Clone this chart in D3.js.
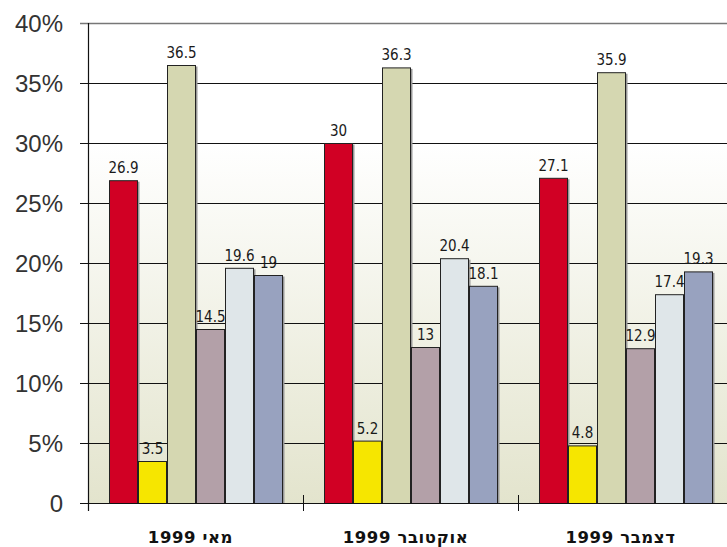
<!DOCTYPE html>
<html><head><meta charset="utf-8">
<script src="https://cdn.jsdelivr.net/npm/d3@7"></script>
<style>html,body{margin:0;padding:0;background:#fff}svg{display:block}</style>
</head><body>
<svg id="chart" width="727" height="547"></svg>
<script>
const categories = ["מאי 1999", "אוקטובר 1999", "דצמבר 1999"];
const seriesNames = ["s1", "s2", "s3", "s4", "s5", "s6"];
const seriesColors = ["#d10024", "#f6e600", "#d5d7b1", "#b3a0a8", "#dfe6e9", "#98a2bf"];
const s1 = [26.9, 30, 27.1];
const s2 = [3.5, 5.2, 4.8];
const s3 = [36.5, 36.3, 35.9];
const s4 = [14.5, 13, 12.9];
const s5 = [19.6, 20.4, 17.4];
const s6 = [19, 18.1, 19.3];
const seriesValues = [s1, s2, s3, s4, s5, s6];
const yTicks = [0, 5, 10, 15, 20, 25, 30, 35, 40];
const yTickLabels = ["0", "5%", "10%", "15%", "20%", "25%", "30%", "35%", "40%"];

(function () {
const svg = d3.select("#chart");
const mLeft = 88, mTop = 23, mBottom = 503, mRight = 733;

const y = d3.scaleLinear().domain([0, 40]).range([mBottom, mTop]);
const x0 = d3.scaleBand().domain(categories).range([mLeft, mRight]);
const x1 = d3.scaleBand().domain(seriesNames).range([21, x0.bandwidth() - 20]);

// background gradient
const defs = svg.append("defs");
const grad = defs.append("linearGradient").attr("id", "bg").attr("x1", 0).attr("y1", 0).attr("x2", 0).attr("y2", 1);
grad.append("stop").attr("offset", "0").attr("stop-color", "#ffffff");
grad.append("stop").attr("offset", "0.25").attr("stop-color", "#ffffff");
grad.append("stop").attr("offset", "1").attr("stop-color", "#e3e4cd");
svg.append("rect").attr("x", mLeft).attr("y", mTop).attr("width", mRight - mLeft).attr("height", mBottom - mTop).attr("fill", "url(#bg)");

// gridlines
svg.append("g").selectAll("line").data(yTicks).join("line")
  .attr("x1", mLeft - 8).attr("x2", 727)
  .attr("y1", d => y(d) + 0.5).attr("y2", d => y(d) + 0.5)
  .attr("stroke", d => d === 40 ? "#777" : "#111").attr("stroke-width", d => d === 40 ? 1.5 : 1);

// y tick labels
svg.append("g").selectAll("text").data(yTicks).join("text")
  .attr("x", 63).attr("y", d => y(d) + 8.5)
  .attr("text-anchor", "end")
  .attr("font-family", "Liberation Sans, Arial, sans-serif")
  .attr("font-size", 24).attr("fill", "#333")
  .text((d, i) => yTickLabels[i]);

// bars
const groups = svg.append("g").selectAll("g").data(categories).join("g")
  .attr("transform", d => `translate(${x0(d)},0)`);
groups.each(function(cat, ci) {
  const g = d3.select(this);
  const data = seriesNames.map((s, si) => ({ s, si, v: seriesValues[si][ci] }));
  g.selectAll("rect.shadow").data(data).join("rect").attr("class", "shadow")
    .attr("x", d => x1(d.s) + 1.5).attr("y", d => y(d.v) + 1.5)
    .attr("width", x1.bandwidth()).attr("height", d => mBottom - y(d.v) - 1.5)
    .attr("fill", "#999");
  g.selectAll("rect.bar").data(data).join("rect").attr("class", "bar")
    .attr("x", d => x1(d.s) + 0.5).attr("y", d => y(d.v) + 0.5)
    .attr("width", x1.bandwidth() - 1).attr("height", d => mBottom - y(d.v))
    .attr("fill", d => seriesColors[d.si]).attr("stroke", "#222").attr("stroke-width", 1);
  g.selectAll("text.val").data(data).join("text").attr("class", "val")
    .attr("x", d => x1(d.s) + x1.bandwidth() / 2).attr("y", d => y(d.v) - 7)
    .attr("text-anchor", "middle")
    .attr("font-family", "Liberation Sans Narrow, Arial Narrow, DejaVu Sans Condensed, sans-serif")
    .attr("font-size", 15).attr("fill", "#1a1a1a")
    .text(d => String(d.v));
});

// axes lines
svg.append("line").attr("x1", mLeft + 0.5).attr("x2", mLeft + 0.5).attr("y1", mTop).attr("y2", mBottom + 8)
  .attr("stroke", "#111").attr("stroke-width", 1.2);
svg.append("line").attr("x1", mLeft - 8).attr("x2", 727).attr("y1", mBottom + 0.5).attr("y2", mBottom + 0.5)
  .attr("stroke", "#111").attr("stroke-width", 1.2);
svg.append("g").selectAll("line").data(categories.slice(1)).join("line")
  .attr("x1", d => x0(d) + 0.5).attr("x2", d => x0(d) + 0.5)
  .attr("y1", mBottom - 8).attr("y2", mBottom + 8)
  .attr("stroke", "#111").attr("stroke-width", 1);

// category labels
svg.append("g").selectAll("text").data(categories).join("text")
  .attr("x", d => x0(d) + x0.bandwidth() / 2 - 5).attr("y", 543)
  .attr("text-anchor", "middle").attr("direction", "rtl")
  .attr("font-family", "DejaVu Sans, sans-serif").attr("font-weight", "bold")
  .attr("font-size", 16.5).attr("letter-spacing", "0.6px").attr("fill", "#111")
  .text(d => d);
})();
</script>
</body></html>
